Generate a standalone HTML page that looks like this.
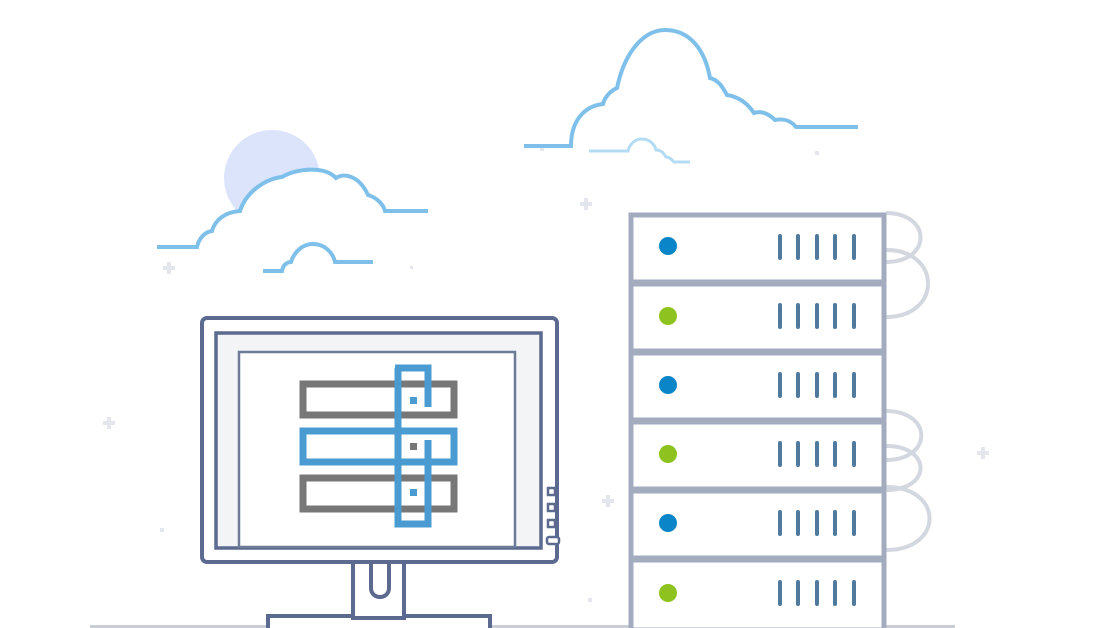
<!DOCTYPE html>
<html><head><meta charset="utf-8"><style>html,body{margin:0;padding:0;background:#fff}svg{display:block}</style></head>
<body>
<svg width="1116" height="628" viewBox="0 0 1116 628" xmlns="http://www.w3.org/2000/svg">
<g fill="#e3e6ec">
<path d="M167 262h4v4h4v4h-4v4h-4v-4h-4v-4h4z"/>
<path d="M584 198h4v4h4v4h-4v4h-4v-4h-4v-4h4z"/>
<path d="M107 417h4v4h4v4h-4v4h-4v-4h-4v-4h4z"/>
<path d="M981 447h4v4h4v4h-4v4h-4v-4h-4v-4h4z"/>
<path d="M606 495h4v4h4v4h-4v4h-4v-4h-4v-4h4z"/>
<rect x="540" y="147" width="4" height="4"/><rect x="815" y="151" width="4" height="4"/>
<rect x="285" y="209" width="3" height="3"/><rect x="410" y="266" width="3" height="3"/>
<rect x="160" y="528" width="4" height="4"/><rect x="588" y="598" width="4" height="4"/>
</g>
<circle cx="272" cy="178" r="48" fill="#dce4fb"/>
<g fill="none" stroke="#7fc0ea" stroke-width="4">
<path d="M524 146 H571 C571 120 585 106 603 104 C605 96 612 90 617 88 C625 50 645 30 665 30 C690 30 705 50 710 78 C718 80 722 86 727 95 C740 97 748 104 754 113 C762 110 770 115 775 120 C785 118 792 122 796 127 H858" fill="#fff"/>
<path d="M157 247 H197 C199 238 205 232 212 231 C215 220 225 212 240 211 C246 192 265 179 282 177 C297 168 325 166 336 178 C345 172 360 177 368 195 C375 197 383 203 385 211 H428" fill="#fff"/>
<path d="M263 271 H282 C283 265 287 262 291 262 C295 250 304 244 313 244 C325 244 333 253 335 262 H373"/>
</g>
<path d="M589 151 H628 C630 143 636 139 642 139 C650 139 655 145 656 150 C662 150 664 154 666 157 C670 157 672 160 674 162 H690" fill="none" stroke="#b3dbf4" stroke-width="3"/>
<line x1="90" y1="626.5" x2="955" y2="626.5" stroke="#c9cdd6" stroke-width="3"/>
<g fill="none" stroke="#d3d7df" stroke-width="4">
<path d="M886 213 C932 213 932 262 886 262"/>
<path d="M886 250 C942 250 942 317 886 317"/>
<path d="M886 411 C933 411 933 460 886 460"/>
<path d="M886 446 C932 446 932 490 886 490"/>
<path d="M886 487 C944 487 944 550 886 550"/>
</g>
<g stroke="#a3abbf" stroke-width="5" fill="#fff">
<rect x="631" y="215" width="253" height="67"/>
<rect x="631" y="284" width="253" height="67"/>
<rect x="631" y="353" width="253" height="67"/>
<rect x="631" y="422" width="253" height="67"/>
<rect x="631" y="491" width="253" height="67"/>
<rect x="631" y="560" width="253" height="70"/>
</g>
<g>
<circle cx="668" cy="246" r="9" fill="#0a85c7"/>
<circle cx="668" cy="316" r="9" fill="#8dc21f"/>
<circle cx="668" cy="385" r="9" fill="#0a85c7"/>
<circle cx="668" cy="454" r="9" fill="#8dc21f"/>
<circle cx="668" cy="523" r="9" fill="#0a85c7"/>
<circle cx="668" cy="593" r="9" fill="#8dc21f"/>
</g>
<g stroke="#4f7a9e" stroke-width="4" stroke-linecap="round">
<path d="M780 236v22M798 236v22M817 236v22M835 236v22M854 236v22"/>
<path d="M780 305v22M798 305v22M817 305v22M835 305v22M854 305v22"/>
<path d="M780 374v22M798 374v22M817 374v22M835 374v22M854 374v22"/>
<path d="M780 443v22M798 443v22M817 443v22M835 443v22M854 443v22"/>
<path d="M780 512v22M798 512v22M817 512v22M835 512v22M854 512v22"/>
<path d="M780 582v22M798 582v22M817 582v22M835 582v22M854 582v22"/>
</g>
<g stroke="#5b6a8e" stroke-width="4" fill="#fff">
<rect x="268" y="616" width="222" height="14"/>
<rect x="353" y="560" width="51" height="58"/>
<rect x="202" y="318" width="355" height="244" rx="5"/>
</g>
<path d="M371 562 V588 C371 600 389 600 389 588 V562" fill="none" stroke="#5b6a8e" stroke-width="4"/>
<rect x="216" y="333" width="325" height="215" fill="#f3f4f6" stroke="#5b6a8e" stroke-width="3.5"/>
<rect x="239" y="352" width="276" height="195" fill="#fff" stroke="#6d7a98" stroke-width="2.5"/>
<g fill="#fff" stroke="#5b6a8e" stroke-width="2.5">
<rect x="548" y="488" width="7" height="7"/><rect x="548" y="504" width="7" height="7"/><rect x="548" y="520" width="7" height="7"/><rect x="547" y="537" width="12" height="7" rx="2"/>
</g>
<g fill="none" stroke-width="7">
<rect x="303" y="384" width="151" height="31" stroke="#777"/>
<rect x="303" y="431" width="151" height="31" stroke="#4a9bd1"/>
<rect x="303" y="478" width="151" height="31" stroke="#777"/>
<path d="M395 368 H428 V407 M398 368 V524 H428 V486" stroke="#4a9bd1"/>
<path d="M398 400 V510" stroke="#4a9bd1"/>
<path d="M428 440 V505" stroke="#4a9bd1"/>
</g>
<rect x="410" y="397" width="7" height="7" fill="#4a9bd1"/>
<rect x="410" y="443" width="7" height="7" fill="#777"/>
<rect x="410" y="489" width="7" height="7" fill="#4a9bd1"/>
</svg>
</body></html>
